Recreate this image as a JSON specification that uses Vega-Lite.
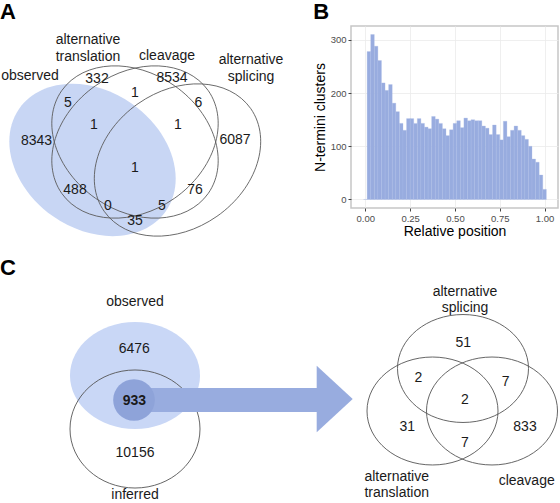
{
  "$schema": "https://vega.github.io/schema/vega-lite/v6.json",
  "padding": 0,
  "background": "white",
  "config": {
    "view": {"stroke": null},
    "font": "Liberation Sans",
    "text": {"font": "Liberation Sans"},
    "title": {"font": "Liberation Sans"}
  },
  "spacing": 17,
  "vconcat": [
    {
      "spacing": 12,
      "hconcat": [
        {
          "title": {"text": "A", "anchor": "start", "frame": "group", "fontSize": 22, "fontWeight": "bold", "color": "black", "offset": 2},
          "width": 300,
          "height": 208,
          "encoding": {
            "x": {"field": "x", "type": "quantitative", "scale": {"domain": [0, 300], "nice": false, "zero": false}, "axis": null},
            "y": {"field": "y", "type": "quantitative", "scale": {"domain": [24, 232], "nice": false, "zero": false, "reverse": true}, "axis": null}
          },
          "layer": [
            {
              "data": {"values": [{"set": "observed", "x": 92.5, "y": 158}]},
              "mark": {"type": "point", "shape": "M -0.7331 -0.5134 A 0.895 0.69 35 0 1 0.7331 0.5134 A 0.895 0.69 35 0 1 -0.7331 -0.5134 Z", "size": 40000, "filled": true, "fill": "#c8d6f4", "opacity": 1, "strokeWidth": 0}
            },
            {
              "data": {"values": [{"set": "alternative translation", "x": 135, "y": 140}]},
              "mark": {"type": "point", "shape": "M -0.7331 -0.5134 A 0.895 0.69 35 0 1 0.7331 0.5134 A 0.895 0.69 35 0 1 -0.7331 -0.5134 Z", "size": 40000, "filled": false, "stroke": "#5a5a5a", "strokeWidth": 0.9, "opacity": 1}
            },
            {
              "data": {"values": [{"set": "cleavage", "x": 135, "y": 140}, {"set": "alternative splicing", "x": 177.5, "y": 158}]},
              "mark": {"type": "point", "shape": "M -0.7331 0.5134 A 0.895 0.69 -35 0 1 0.7331 -0.5134 A 0.895 0.69 -35 0 1 -0.7331 0.5134 Z", "size": 40000, "filled": false, "stroke": "#5a5a5a", "strokeWidth": 0.9, "opacity": 1}
            },
            {
              "data": {"values": [
                {"label": "alternative\ntranslation", "x": 88, "y": 41.7},
                {"label": "observed", "x": 30, "y": 77.5},
                {"label": "cleavage", "x": 167, "y": 58.3},
                {"label": "alternative\nsplicing", "x": 251, "y": 61.7}
              ]},
              "mark": {"type": "text", "fontSize": 14, "color": "#1a1a1a", "baseline": "alphabetic", "align": "center", "lineBreak": "\n", "lineHeight": 17},
              "encoding": {"text": {"field": "label", "type": "nominal"}}
            },
            {
              "data": {"values": [
                {"region": "alternative translation only", "count": "332", "x": 97, "y": 81},
                {"region": "cleavage only", "count": "8534", "x": 172, "y": 80},
                {"region": "observed & alternative translation", "count": "5", "x": 68, "y": 104.5},
                {"region": "alternative translation & cleavage", "count": "1", "x": 135, "y": 95},
                {"region": "cleavage & alternative splicing", "count": "6", "x": 198.5, "y": 105},
                {"region": "observed & alternative translation & cleavage", "count": "1", "x": 94, "y": 127},
                {"region": "alternative translation & cleavage & alternative splicing", "count": "1", "x": 178, "y": 126.5},
                {"region": "observed only", "count": "8343", "x": 36.5, "y": 142.5},
                {"region": "alternative splicing only", "count": "6087", "x": 235, "y": 141.5},
                {"region": "all four", "count": "1", "x": 135, "y": 170},
                {"region": "observed & cleavage", "count": "488", "x": 75, "y": 191.5},
                {"region": "alternative translation & alternative splicing", "count": "76", "x": 195, "y": 191.5},
                {"region": "observed & cleavage & alternative splicing", "count": "0", "x": 108, "y": 208},
                {"region": "observed & alternative translation & alternative splicing", "count": "5", "x": 162, "y": 208},
                {"region": "observed & alternative splicing", "count": "35", "x": 135, "y": 223.3}
              ]},
              "mark": {"type": "text", "fontSize": 14, "color": "#1a1a1a", "baseline": "alphabetic", "align": "center"},
              "encoding": {"text": {"field": "count", "type": "nominal"}}
            }
          ]
        },
        {
          "title": {"text": "B", "anchor": "start", "frame": "bounds", "fontSize": 22, "fontWeight": "bold", "color": "black", "offset": 2},
          "width": 207,
          "height": 182,
          "view": {"stroke": "#c6c6c6", "strokeWidth": 1.5},
          "data": {"values": [
            {"bin_start": -0.01, "bin_end": 0.01, "count": 0},
            {"bin_start": 0.01, "bin_end": 0.03, "count": 278},
            {"bin_start": 0.03, "bin_end": 0.05, "count": 310},
            {"bin_start": 0.05, "bin_end": 0.07, "count": 288},
            {"bin_start": 0.07, "bin_end": 0.09, "count": 261},
            {"bin_start": 0.09, "bin_end": 0.11, "count": 219},
            {"bin_start": 0.11, "bin_end": 0.13, "count": 205},
            {"bin_start": 0.13, "bin_end": 0.15, "count": 216},
            {"bin_start": 0.15, "bin_end": 0.17, "count": 181},
            {"bin_start": 0.17, "bin_end": 0.19, "count": 165},
            {"bin_start": 0.19, "bin_end": 0.21, "count": 143},
            {"bin_start": 0.21, "bin_end": 0.23, "count": 130},
            {"bin_start": 0.23, "bin_end": 0.25, "count": 152},
            {"bin_start": 0.25, "bin_end": 0.27, "count": 152},
            {"bin_start": 0.27, "bin_end": 0.29, "count": 143},
            {"bin_start": 0.29, "bin_end": 0.31, "count": 152},
            {"bin_start": 0.31, "bin_end": 0.33, "count": 143},
            {"bin_start": 0.33, "bin_end": 0.35, "count": 136},
            {"bin_start": 0.35, "bin_end": 0.37, "count": 133},
            {"bin_start": 0.37, "bin_end": 0.39, "count": 156},
            {"bin_start": 0.39, "bin_end": 0.41, "count": 151},
            {"bin_start": 0.41, "bin_end": 0.43, "count": 143},
            {"bin_start": 0.43, "bin_end": 0.45, "count": 133},
            {"bin_start": 0.45, "bin_end": 0.47, "count": 120},
            {"bin_start": 0.47, "bin_end": 0.49, "count": 131},
            {"bin_start": 0.49, "bin_end": 0.51, "count": 143},
            {"bin_start": 0.51, "bin_end": 0.53, "count": 148},
            {"bin_start": 0.53, "bin_end": 0.55, "count": 135},
            {"bin_start": 0.55, "bin_end": 0.57, "count": 153},
            {"bin_start": 0.57, "bin_end": 0.59, "count": 148},
            {"bin_start": 0.59, "bin_end": 0.61, "count": 150},
            {"bin_start": 0.61, "bin_end": 0.63, "count": 148},
            {"bin_start": 0.63, "bin_end": 0.65, "count": 148},
            {"bin_start": 0.65, "bin_end": 0.67, "count": 138},
            {"bin_start": 0.67, "bin_end": 0.69, "count": 134},
            {"bin_start": 0.69, "bin_end": 0.71, "count": 122},
            {"bin_start": 0.71, "bin_end": 0.73, "count": 140},
            {"bin_start": 0.73, "bin_end": 0.75, "count": 122},
            {"bin_start": 0.75, "bin_end": 0.77, "count": 112},
            {"bin_start": 0.77, "bin_end": 0.79, "count": 147},
            {"bin_start": 0.79, "bin_end": 0.81, "count": 118},
            {"bin_start": 0.81, "bin_end": 0.83, "count": 130},
            {"bin_start": 0.83, "bin_end": 0.85, "count": 138},
            {"bin_start": 0.85, "bin_end": 0.87, "count": 130},
            {"bin_start": 0.87, "bin_end": 0.89, "count": 120},
            {"bin_start": 0.89, "bin_end": 0.91, "count": 113},
            {"bin_start": 0.91, "bin_end": 0.93, "count": 100},
            {"bin_start": 0.93, "bin_end": 0.95, "count": 76},
            {"bin_start": 0.95, "bin_end": 0.97, "count": 70},
            {"bin_start": 0.97, "bin_end": 0.99, "count": 46},
            {"bin_start": 0.99, "bin_end": 1.01, "count": 19}
          ]},
          "mark": {"type": "rect", "fill": "#98acdf", "stroke": "#a9bae6", "strokeWidth": 0.3},
          "encoding": {
            "x": {"field": "bin_start", "type": "quantitative",
                  "scale": {"domain": [-0.08, 1.075], "nice": false, "zero": false},
                  "axis": {"title": "Relative position", "values": [0, 0.25, 0.5, 0.75, 1], "format": ".2f",
                           "titleFontSize": 14, "titleFontWeight": "normal", "titleColor": "black", "titlePadding": 2,
                           "labelFontSize": 9.5, "labelColor": "#4d4d4d", "labelPadding": 2, "labelFlush": false,
                           "tickSize": 3, "tickColor": "#444444", "domain": false,
                           "grid": true, "gridColor": "#ebebeb", "gridWidth": 0.8}},
            "x2": {"field": "bin_end"},
            "y": {"field": "count", "type": "quantitative",
                  "scale": {"domain": [-16, 326], "nice": false, "zero": false},
                  "axis": {"title": "N-termini clusters", "values": [0, 100, 200, 300], "format": "d",
                           "titleFontSize": 14, "titleFontWeight": "normal", "titleColor": "black", "titlePadding": 3,
                           "labelFontSize": 9.5, "labelColor": "#4d4d4d", "labelPadding": 2,
                           "tickSize": 3, "tickColor": "#444444", "domain": false,
                           "grid": true, "gridColor": "#ebebeb", "gridWidth": 0.8}},
            "y2": {"datum": 0}
          }
        }
      ]
    },
    {
      "title": {"text": "C", "anchor": "start", "frame": "group", "fontSize": 22, "fontWeight": "bold", "color": "black", "offset": 2},
      "width": 560,
      "height": 220,
      "encoding": {
        "x": {"field": "x", "type": "quantitative", "scale": {"domain": [0, 560], "nice": false, "zero": false}, "axis": null},
        "y": {"field": "y", "type": "quantitative", "scale": {"domain": [283, 503], "nice": false, "zero": false, "reverse": true}, "axis": null}
      },
      "layer": [
        {
          "data": {"values": [{"set": "observed", "x": 135, "y": 376.5}]},
          "mark": {"type": "point", "shape": "M -1 0 A 1 0.823 0 0 1 1 0 A 1 0.823 0 0 1 -1 0 Z", "size": 16900, "filled": true, "fill": "#c9d7f6", "opacity": 1, "strokeWidth": 0}
        },
        {
          "data": {"values": [{"set": "inferred", "x": 135, "y": 430}]},
          "mark": {"type": "point", "shape": "M -1 0 A 1 0.908 0 0 1 1 0 A 1 0.908 0 0 1 -1 0 Z", "size": 16900, "filled": false, "stroke": "#555555", "strokeWidth": 0.9, "opacity": 1}
        },
        {
          "data": {"values": [{"part": "arrow shaft", "x": 140, "x2": 318, "y": 389, "y2": 413}]},
          "mark": {"type": "rect", "fill": "#98acdf"},
          "encoding": {"x2": {"field": "x2"}, "y2": {"field": "y2"}}
        },
        {
          "data": {"values": [{"part": "arrow head", "x": 334.7, "y": 400}]},
          "mark": {"type": "point", "shape": "M -0.5 -0.925 L 0.5 0 L -0.5 0.925 Z", "size": 5184, "filled": true, "fill": "#98acdf", "opacity": 1, "strokeWidth": 0}
        },
        {
          "data": {"values": [{"set": "observed & inferred", "x": 134, "y": 401}]},
          "mark": {"type": "point", "shape": "circle", "size": 1735, "filled": true, "fill": "#8ea3d9", "opacity": 1, "strokeWidth": 0}
        },
        {
          "data": {"values": [
            {"set": "alternative splicing", "x": 463, "y": 369.5},
            {"set": "alternative translation", "x": 432.5, "y": 412},
            {"set": "cleavage", "x": 492, "y": 412}
          ]},
          "mark": {"type": "point", "shape": "M -1 0 A 1 0.824 0 0 1 1 0 A 1 0.824 0 0 1 -1 0 Z", "size": 17161, "filled": false, "stroke": "#555555", "strokeWidth": 0.9, "opacity": 1}
        },
        {
          "data": {"values": [
            {"label": "observed", "x": 135, "y": 306.6},
            {"label": "inferred", "x": 135, "y": 499.5},
            {"label": "alternative\nsplicing", "x": 465, "y": 296.5},
            {"label": "alternative\ntranslation", "x": 396.7, "y": 482},
            {"label": "cleavage", "x": 526.7, "y": 485.5}
          ]},
          "mark": {"type": "text", "fontSize": 14, "color": "#1a1a1a", "baseline": "alphabetic", "align": "center", "lineBreak": "\n", "lineHeight": 16},
          "encoding": {"text": {"field": "label", "type": "nominal"}}
        },
        {
          "data": {"values": [
            {"region": "observed only", "count": "6476", "x": 134.3, "y": 353.8},
            {"region": "inferred only", "count": "10156", "x": 135, "y": 458},
            {"region": "alternative splicing only", "count": "51", "x": 463.3, "y": 347.5},
            {"region": "alternative splicing & alternative translation", "count": "2", "x": 418.3, "y": 383},
            {"region": "alternative splicing & cleavage", "count": "7", "x": 505.7, "y": 386.5},
            {"region": "all three", "count": "2", "x": 465, "y": 404.8},
            {"region": "alternative translation only", "count": "31", "x": 407.3, "y": 431.5},
            {"region": "cleavage only", "count": "833", "x": 525, "y": 432},
            {"region": "alternative translation & cleavage", "count": "7", "x": 465, "y": 448}
          ]},
          "mark": {"type": "text", "fontSize": 14, "color": "#1a1a1a", "baseline": "alphabetic", "align": "center"},
          "encoding": {"text": {"field": "count", "type": "nominal"}}
        },
        {
          "data": {"values": [{"region": "observed & inferred", "count": "933", "x": 134.3, "y": 406.3}]},
          "mark": {"type": "text", "fontSize": 14, "fontWeight": "bold", "color": "#1a1a1a", "baseline": "alphabetic", "align": "center"},
          "encoding": {"text": {"field": "count", "type": "nominal"}}
        }
      ]
    }
  ]
}
